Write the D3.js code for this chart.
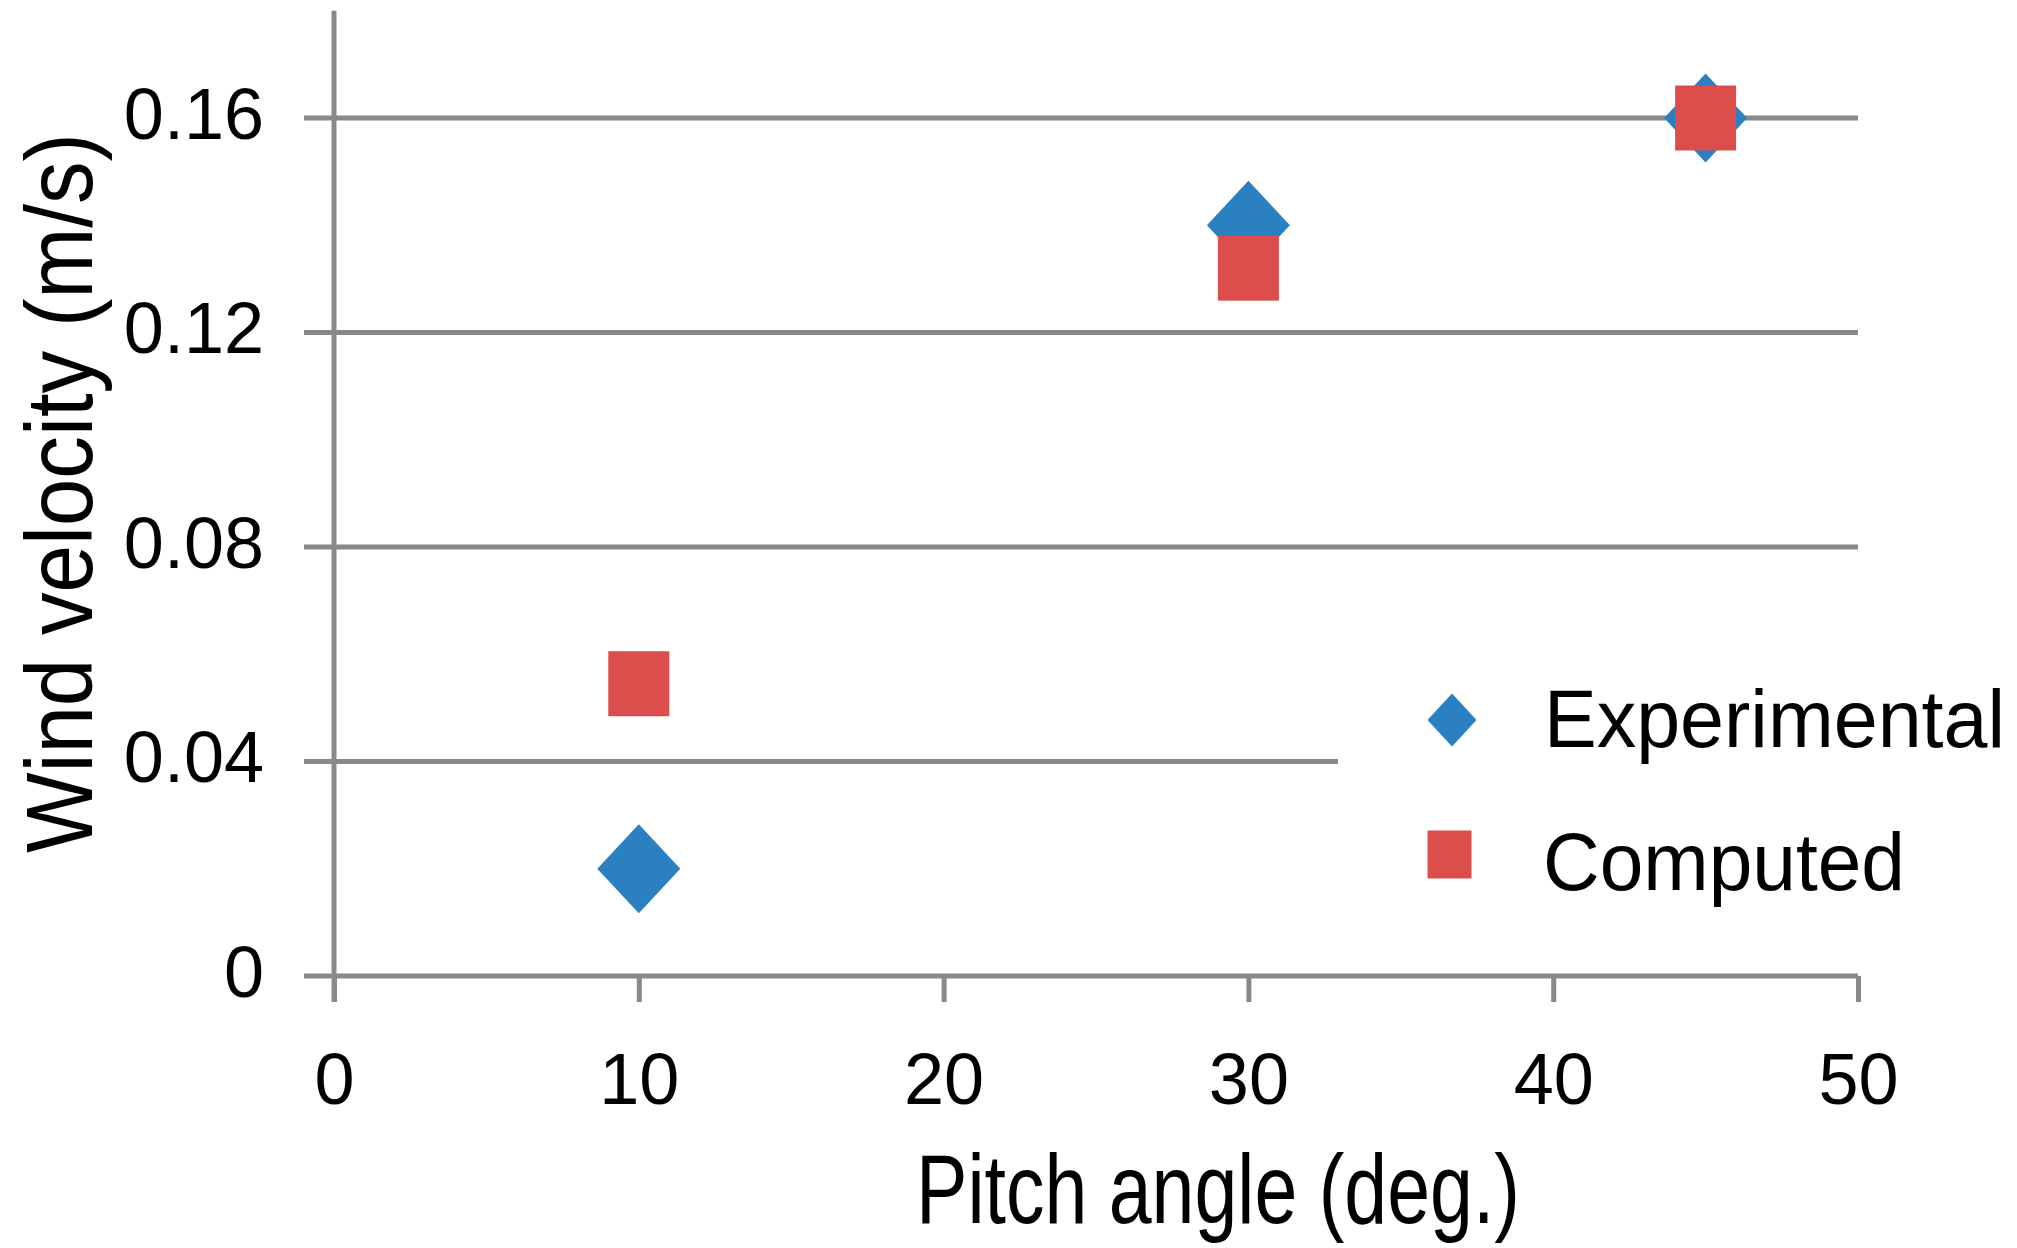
<!DOCTYPE html>
<html>
<head>
<meta charset="utf-8">
<script src="https://cdn.jsdelivr.net/npm/d3@7"></script>
<style>
  html, body { margin: 0; padding: 0; background: #ffffff; }
  svg { display: block; }
  text { font-family: "Liberation Sans", Arial, "Noto Sans", sans-serif; fill: #000; }
</style>
</head>
<body>
<svg id="chart" width="2017" height="1248"></svg>
<script>
// ---------------- data ----------------
const seriesNames = ["Experimental", "Computed"];
const pitchAngles = [10, 30, 45];
const experimentalValues = [0.02, 0.14, 0.16];
const computedValues = [0.0545, 0.132, 0.16];
const xTickValues = [0, 10, 20, 30, 40, 50];
const yTickValues = [0, 0.04, 0.08, 0.12, 0.16];
const yTickLabels = ["0", "0.04", "0.08", "0.12", "0.16"];
const xTitle = "Pitch angle (deg.)";
const yTitle = "Wind velocity (m/s)";

// ---------------- layout / style ----------------
const W = 2017, H = 1248;
const gridColor = "#898989";
const blue = "#2a80c0";
const red = "#dc4e4b";
const lineW = 5;
const tickLen = 30;

const svg = d3.select("#chart");
svg.append("rect").attr("width", W).attr("height", H).attr("fill", "#fff");

const x = d3.scaleLinear().domain([0, 50]).range([334, 1858]);
const y = d3.scaleLinear().domain([0, 0.18]).range([976, 10.75]);

// horizontal gridlines (incl. the 0 line which acts as x-axis), with left stubs
svg.append("g").selectAll("line.grid")
  .data(yTickValues)
  .join("line")
  .attr("class", "grid")
  .attr("x1", x(0) - tickLen)
  .attr("x2", x(50))
  .attr("y1", d => y(d))
  .attr("y2", d => y(d))
  .attr("stroke", gridColor)
  .attr("stroke-width", lineW);

// vertical y-axis line
svg.append("line")
  .attr("x1", x(0)).attr("x2", x(0))
  .attr("y1", y(0.18)).attr("y2", y(0) + 26)
  .attr("stroke", gridColor).attr("stroke-width", lineW);

// x-axis ticks + labels using d3 axis
const xAxis = d3.axisBottom(x)
  .tickValues(xTickValues)
  .tickSize(26)
  .tickPadding(100)
  .tickFormat(d3.format("d"));
const gx = svg.append("g").attr("transform", `translate(0,${y(0)})`).call(xAxis);
gx.select(".domain").remove();
gx.selectAll(".tick line").attr("stroke", gridColor).attr("stroke-width", lineW);
gx.selectAll(".tick text")
  .attr("y", 128)
  .attr("dy", null)
  .attr("font-size", 72)
  .attr("font-family", "'Liberation Sans', Arial, sans-serif")
  .attr("fill", "#000");

// y-axis labels using d3 axis
const yAxis = d3.axisLeft(y)
  .tickValues(yTickValues)
  .tickSize(0)
  .tickFormat((d, i) => yTickLabels[i]);
const gy = svg.append("g").attr("transform", `translate(${x(0)},0)`).call(yAxis);
gy.select(".domain").remove();
gy.selectAll(".tick line").remove();
gy.selectAll(".tick text")
  .attr("x", -70)
  .attr("dy", null)
  .attr("y", 20)
  .attr("font-size", 72)
  .attr("font-family", "'Liberation Sans', Arial, sans-serif")
  .attr("fill", "#000");

// ---------------- markers ----------------
const dHalfW = 41.5, dHalfH = 44.5;   // diamond
const sqW = 61, sqH = 65;             // square
const diamondPath = (cx, cy, hw, hh) =>
  d3.line()([[cx, cy - hh], [cx + hw, cy], [cx, cy + hh], [cx - hw, cy]]) + "Z";

const expData = pitchAngles.map((a, i) => ({ a, v: experimentalValues[i] }));
const compData = pitchAngles.map((a, i) => ({ a, v: computedValues[i] }));

svg.append("g").selectAll("path")
  .data(expData)
  .join("path")
  .attr("d", d => diamondPath(x(d.a), y(d.v), dHalfW, dHalfH))
  .attr("fill", blue);

svg.append("g").selectAll("rect")
  .data(compData)
  .join("rect")
  .attr("x", d => x(d.a) - sqW / 2)
  .attr("y", d => y(d.v) - sqH / 2)
  .attr("width", sqW)
  .attr("height", sqH)
  .attr("fill", red);

// ---------------- legend ----------------
const lg = svg.append("g");
lg.append("rect").attr("x", 1338).attr("y", 640).attr("width", W - 1338).attr("height", 290).attr("fill", "#fff");
lg.append("path").attr("d", diamondPath(1452, 720, 24.5, 26.5)).attr("fill", blue);
lg.append("rect").attr("x", 1427.5).attr("y", 830.5).attr("width", 44).attr("height", 48).attr("fill", red);
lg.append("text").attr("x", 1544).attr("y", 747).attr("font-size", 81)
  .attr("textLength", 461).attr("lengthAdjust", "spacingAndGlyphs").text(seriesNames[0]);
lg.append("text").attr("x", 1543).attr("y", 890).attr("font-size", 81)
  .attr("textLength", 362).attr("lengthAdjust", "spacingAndGlyphs").text(seriesNames[1]);

// ---------------- axis titles ----------------
svg.append("text")
  .attr("x", 1218).attr("y", 1223)
  .attr("text-anchor", "middle")
  .attr("font-size", 98)
  .attr("textLength", 604).attr("lengthAdjust", "spacingAndGlyphs")
  .text(xTitle);

svg.append("text")
  .attr("transform", "translate(92,493) rotate(-90)")
  .attr("text-anchor", "middle")
  .attr("font-size", 95)
  .attr("textLength", 720).attr("lengthAdjust", "spacingAndGlyphs")
  .text(yTitle);
</script>
</body>
</html>
